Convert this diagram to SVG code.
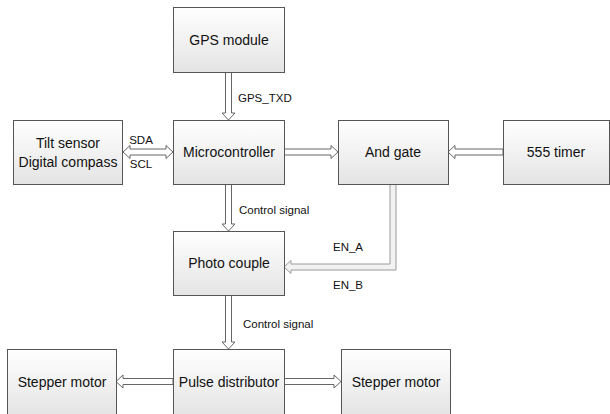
<svg xmlns="http://www.w3.org/2000/svg" width="610" height="414" viewBox="0 0 610 414">
<defs>
<linearGradient id="g" x1="0" y1="0" x2="0" y2="1">
<stop offset="0" stop-color="#ffffff"/>
<stop offset="1" stop-color="#e4e4e4"/>
</linearGradient>
<style>
.box{fill:url(#g);stroke:#555;stroke-width:1}
.t{font-family:"Liberation Sans",Arial,sans-serif;font-size:14px;fill:#111;text-anchor:middle}
.l{font-family:"Liberation Sans",Arial,sans-serif;font-size:11.5px;fill:#111}
.a{fill:#fff;stroke:#666;stroke-width:1}
.a2{fill:#f2f2f2;stroke:#9a9a9a;stroke-width:1}
</style>
</defs>
<rect width="610" height="414" fill="#fff"/>
<g id="connectors">
<polygon class="a" points="225.5,72 231.5,72 231.5,113 235,113 228.5,120 222,113 225.5,113"/>
<polygon class="a" points="225.5,184 231.5,184 231.5,224 235,224 228.5,231 222,224 225.5,224"/>
<polygon class="a" points="225.5,295 231.5,295 231.5,342 235,342 228.5,349 222,342 225.5,342"/>
<polygon class="a" points="284,149 331,149 331,145.5 338,152 331,158.5 331,155 284,155"/>
<polygon class="a" points="503,149 455,149 455,145.5 448,152 455,158.5 455,155 503,155"/>
<polygon class="a" points="130,149 166,149 166,145.5 173,152 166,158.5 166,155 130,155 130,158.5 123,152 130,145.5"/>
<polygon class="a" points="173,378.5 123,378.5 123,375 116,381.5 123,388 123,384.5 173,384.5"/>
<polygon class="a" points="284,378.5 334,378.5 334,375 341,381.5 334,388 334,384.5 284,384.5"/>
<polygon class="a2" points="390,184 396,184 396,270 291,270 291,273.5 284,267 291,260.5 291,264 390,264"/>
<text class="l" x="238" y="102">GPS_TXD</text>
<text class="l" x="141" y="144" text-anchor="middle">SDA</text>
<text class="l" x="141" y="168" text-anchor="middle">SCL</text>
<text class="l" x="239" y="214">Control signal</text>
<text class="l" x="243" y="328">Control signal</text>
<text class="l" x="333" y="251">EN_A</text>
<text class="l" x="333" y="289">EN_B</text>
</g>
<g id="gps"><rect class="box" x="173.5" y="7.5" width="111" height="65"/><text class="t" x="229" y="45">GPS module</text></g>
<g id="tilt"><rect class="box" x="13.5" y="120.5" width="109" height="64"/><text class="t" x="68" y="148">Tilt sensor</text><text class="t" x="68" y="167">Digital compass</text></g>
<g id="micro"><rect class="box" x="173.5" y="120.5" width="111" height="64"/><text class="t" x="229" y="157">Microcontroller</text></g>
<g id="andgate"><rect class="box" x="338.5" y="120.5" width="110" height="64"/><text class="t" x="393" y="157">And gate</text></g>
<g id="timer"><rect class="box" x="503.5" y="120.5" width="106" height="64"/><text class="t" x="556" y="157">555 timer</text></g>
<g id="photo"><rect class="box" x="173.5" y="231.5" width="111" height="64"/><text class="t" x="229" y="268">Photo couple</text></g>
<g id="pulse"><rect class="box" x="173.5" y="349.5" width="111" height="66"/><text class="t" x="229" y="387">Pulse distributor</text></g>
<g id="stepper1"><rect class="box" x="7.5" y="349.5" width="109" height="66"/><text class="t" x="62" y="387">Stepper motor</text></g>
<g id="stepper2"><rect class="box" x="341.5" y="349.5" width="109" height="66"/><text class="t" x="396" y="387">Stepper motor</text></g>
</svg>
